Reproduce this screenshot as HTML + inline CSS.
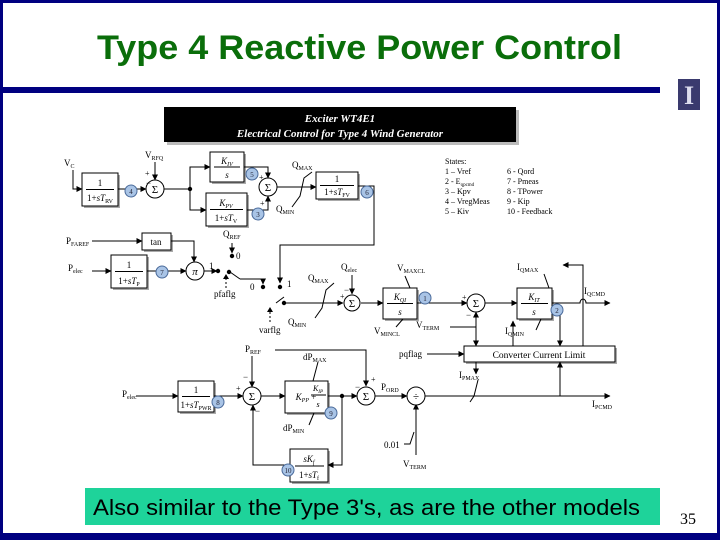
<!DOCTYPE html>
<html><head><meta charset="utf-8"><style>
html,body{margin:0;padding:0;background:#fff}
body{width:720px;height:540px;position:relative;overflow:hidden}
</style></head><body>
<svg width="720" height="540" viewBox="0 0 720 540" xmlns="http://www.w3.org/2000/svg" font-family="Liberation Serif, serif" font-size="9">
<defs>
<marker id="a" markerWidth="6" markerHeight="6" refX="5.5" refY="3" orient="auto" markerUnits="userSpaceOnUse"><path d="M0,0 L6,3 L0,6z" fill="#000"/></marker>
</defs>
<rect x="0" y="0" width="720" height="540" fill="#fff"/>
<rect x="0" y="0" width="720" height="3" fill="#000080"/>
<rect x="0" y="0" width="3" height="540" fill="#000080"/>
<rect x="717" y="0" width="3" height="540" fill="#000080"/>
<rect x="0" y="533" width="720" height="7" fill="#000080"/>
<rect x="3" y="87" width="657" height="6" fill="#000080"/>
<text x="97" y="59" textLength="525" lengthAdjust="spacingAndGlyphs" font-family="Liberation Sans, sans-serif" font-weight="bold" font-size="34" fill="#0a6e0a">Type 4 Reactive Power Control</text>
<rect x="678" y="79" width="22" height="31" fill="#3a3a6e"/>
<text x="689" y="104" text-anchor="middle" font-size="26" font-weight="bold" fill="#dde">I</text>
<rect x="167" y="110" width="352" height="35" fill="#bbb"/>
<rect x="164" y="107" width="352" height="35" fill="#000"/>
<text x="340" y="122" text-anchor="middle" fill="#fff" font-style="italic" font-weight="bold" font-size="11">Exciter WT4E1</text>
<text x="340" y="137" text-anchor="middle" fill="#fff" font-style="italic" font-weight="bold" font-size="11">Electrical Control for Type 4 Wind Generator</text>
<g font-size="8">
<text x="445" y="164">States:</text>
<text x="445" y="174">1 – Vref</text><text x="445" y="184">2 - E<tspan font-size="5" dy="2">qpcmd</tspan></text>
<text x="445" y="194">3 – Kpv</text><text x="445" y="204">4 – VregMeas</text><text x="445" y="214">5 – Kiv</text>
<text x="507" y="174">6 - Qord</text><text x="507" y="184">7 - Pmeas</text><text x="507" y="194">8 - TPower</text><text x="507" y="204">9 - Kip</text><text x="507" y="214">10 - Feedback</text>
</g>
<g stroke="#000" stroke-width="1" fill="none">
<g fill="#aaa" stroke="none">
<rect x="84" y="175" width="36" height="33"/><rect x="212" y="154" width="34" height="30"/><rect x="208" y="195" width="41" height="33"/>
<rect x="318" y="174" width="42" height="27"/><rect x="144" y="235" width="29" height="17"/><rect x="113" y="257" width="36" height="33"/>
<rect x="385" y="290" width="34" height="31"/><rect x="519" y="290" width="35" height="31"/><rect x="466" y="348" width="151" height="16"/>
<rect x="180" y="383" width="36" height="31"/><rect x="287" y="383" width="43" height="32"/><rect x="292" y="451" width="38" height="33"/>
</g>
<g fill="#fff">
<rect x="82" y="173" width="36" height="33"/><rect x="210" y="152" width="34" height="30"/><rect x="206" y="193" width="41" height="33"/>
<rect x="316" y="172" width="42" height="27"/><rect x="142" y="233" width="29" height="17"/><rect x="111" y="255" width="36" height="33"/>
<rect x="383" y="288" width="34" height="31"/><rect x="517" y="288" width="35" height="31"/><rect x="464" y="346" width="151" height="16"/>
<rect x="178" y="381" width="36" height="31"/><rect x="285" y="381" width="43" height="32"/><rect x="290" y="449" width="38" height="33"/>
</g>
<path d="M86,189.5H114M214,167H240M210,209.5H243M320,185.5H354M115,271.5H143M387,303.5H413M521,303.5H548M295,466H324M182,396.5H210"/>
<path d="M73,170V189H82" marker-end="url(#a)"/>
<path d="M118,189H146" marker-end="url(#a)"/>
<path d="M155,162V180" marker-end="url(#a)"/>
<path d="M164,189H189"/>
<path d="M190,189V167H210" marker-end="url(#a)"/>
<path d="M190,189V210H206" marker-end="url(#a)"/>
<path d="M244,167H268V178" marker-end="url(#a)"/>
<path d="M247,210H268V196" marker-end="url(#a)"/>
<path d="M277,187H316" marker-end="url(#a)"/>
<path d="M292,207L300,196L304,178L312,172"/>
<path d="M358,186H374V245H280V283" marker-end="url(#a)"/>
<path d="M92,241H142" marker-end="url(#a)"/>
<path d="M171,241H194V262" marker-end="url(#a)"/>
<path d="M92,271H111" marker-end="url(#a)"/>
<path d="M147,271H186" marker-end="url(#a)"/>
<path d="M204,271H217" marker-end="url(#a)"/>
<path d="M230,272L240,279"/>
<path d="M232,243V253" marker-end="url(#a)"/>
<path d="M240,279H263V284" marker-end="url(#a)"/>
<path d="M276,303L284,297"/>
<path d="M283,303H343" marker-end="url(#a)"/>
<path d="M315,318L322,308L326,290L334,283"/>
<path d="M352,275V294" marker-end="url(#a)"/>
<path d="M361,303H383" marker-end="url(#a)"/>
<path d="M403,319L396,327M405,276L410,288"/>
<path d="M417,303H467" marker-end="url(#a)"/>
<path d="M485,303H517" marker-end="url(#a)"/>
<path d="M450,327H476"/>
<path d="M476,327V312" marker-end="url(#a)"/>
<path d="M476,327V346" marker-end="url(#a)"/>
<path d="M552,303H580A3,4 0 0 1 586,303H610" marker-end="url(#a)"/>
<path d="M583,346V265H563" marker-end="url(#a)"/>
<path d="M544,274L549,288M536,330L541,319"/>
<path d="M560,310V346" marker-end="url(#a)"/>
<path d="M513,346V321" marker-end="url(#a)"/>
<path d="M427,354H464" marker-end="url(#a)"/>
<path d="M476,362V374" marker-end="url(#a)"/>
<path d="M136,396H178" marker-end="url(#a)"/>
<path d="M214,396H243" marker-end="url(#a)"/>
<path d="M252,356V387" marker-end="url(#a)"/>
<path d="M275,350H366V386" marker-end="url(#a)"/>
<path d="M261,396H285" marker-end="url(#a)"/>
<path d="M328,396H357" marker-end="url(#a)"/>
<path d="M342,396V465H328" marker-end="url(#a)"/>
<path d="M290,465H253V405" marker-end="url(#a)"/>
<path d="M375,396H407" marker-end="url(#a)"/>
<path d="M425,396H610" marker-end="url(#a)"/>
<path d="M560,396V362" marker-end="url(#a)"/>
<path d="M470,402L474,396L478,380M318,362L313,381M314,413L309,425"/>
<path d="M416,455V404" marker-end="url(#a)"/>
<path d="M404,444H410L414,432"/>
<g fill="#fff"><circle cx="155" cy="189" r="9"/><circle cx="268" cy="187" r="9"/><circle cx="195" cy="271" r="9"/><circle cx="352" cy="303" r="8"/><circle cx="476" cy="303" r="9"/><circle cx="252" cy="396" r="9"/><circle cx="366" cy="396" r="9"/><circle cx="416" cy="396" r="9"/></g>
</g>
<g fill="#000"><circle cx="218" cy="271" r="2.2"/><circle cx="229" cy="272" r="2.2"/><circle cx="232" cy="256" r="2.2"/><circle cx="263" cy="287" r="2.2"/><circle cx="280" cy="287" r="2.2"/><circle cx="284" cy="303" r="2.2"/><circle cx="190" cy="189" r="2.2"/><circle cx="342" cy="396" r="2.2"/></g>
<g stroke="#000" stroke-dasharray="2,2"><path d="M226,288V278M270,322V311"/></g>
<path d="M223,279L226,274L229,279z M267,312L270,307L273,312z"/>
<g fill="#a9c4e6" stroke="#4a6a9a" stroke-width="1">
<circle cx="131" cy="191" r="6"/><circle cx="252" cy="174" r="6"/><circle cx="258" cy="214" r="6"/><circle cx="367" cy="192" r="6"/>
<circle cx="162" cy="272" r="6"/><circle cx="425" cy="298" r="6"/><circle cx="557" cy="310" r="6"/><circle cx="218" cy="402" r="6"/><circle cx="331" cy="413" r="6"/><circle cx="288" cy="470" r="6"/>
</g>
<g font-size="7" text-anchor="middle" fill="#223">
<text x="131" y="194">4</text><text x="252" y="177">5</text><text x="258" y="217">3</text><text x="367" y="195">6</text><text x="162" y="275">7</text><text x="425" y="301">1</text><text x="557" y="313">2</text><text x="218" y="405">8</text><text x="331" y="416">9</text><text x="288" y="473">10</text>
</g>
<g text-anchor="middle" font-size="11">
<text x="155" y="193">Σ</text><text x="268" y="191">Σ</text><text x="195" y="275" font-style="italic">π</text><text x="352" y="307">Σ</text><text x="476" y="307">Σ</text><text x="252" y="400">Σ</text><text x="366" y="400">Σ</text><text x="416" y="400">÷</text>
</g>
<g text-anchor="middle" font-size="9">
<text x="100" y="186">1</text><text x="100" y="201">1+<tspan font-style="italic">sT</tspan><tspan font-size="6" dy="2">RV</tspan></text>
<text x="227" y="164" font-style="italic">K<tspan font-size="6" dy="2">IV</tspan></text><text x="227" y="178" font-style="italic">s</text>
<text x="226" y="206" font-style="italic">K<tspan font-size="6" dy="2">PV</tspan></text><text x="226" y="221">1+<tspan font-style="italic">sT</tspan><tspan font-size="6" dy="2">V</tspan></text>
<text x="337" y="182">1</text><text x="337" y="195">1+<tspan font-style="italic">sT</tspan><tspan font-size="6" dy="2">FV</tspan></text>
<text x="156" y="245">tan</text>
<text x="129" y="268">1</text><text x="129" y="284">1+<tspan font-style="italic">sT</tspan><tspan font-size="6" dy="2">P</tspan></text>
<text x="400" y="300" font-style="italic">K<tspan font-size="6" dy="2">QI</tspan></text><text x="400" y="315" font-style="italic">s</text>
<text x="534" y="300" font-style="italic">K<tspan font-size="6" dy="2">IT</tspan></text><text x="534" y="315" font-style="italic">s</text>
<text x="539" y="358" font-size="9.5">Converter Current Limit</text>
<text x="196" y="393">1</text><text x="196" y="408">1+<tspan font-style="italic">sT</tspan><tspan font-size="6" dy="2">PWR</tspan></text>
<text x="306" y="400" font-style="italic">K<tspan font-size="6" dy="2">PP</tspan><tspan dy="-2" font-style="normal"> + </tspan></text>
<text x="318" y="391" font-style="italic" font-size="8">K<tspan font-size="5" dy="2">IP</tspan></text><path d="M311,395H326" stroke="#000"/><text x="318" y="407" font-style="italic" font-size="8">s</text>
<text x="309" y="462" font-style="italic">sK<tspan font-size="6" dy="2">f</tspan></text><text x="309" y="478">1+<tspan font-style="italic">sT</tspan><tspan font-size="6" dy="2">f</tspan></text>
</g>
<g font-size="9">
<text x="64" y="166">V<tspan font-size="6" dy="2">C</tspan></text>
<text x="145" y="158">V<tspan font-size="6" dy="2">RFQ</tspan></text>
<text x="145" y="176" font-size="8">+</text><text x="146" y="186" font-size="9">−</text>
<text x="259" y="180" font-size="8">+</text><text x="260" y="206" font-size="8">+</text>
<text x="292" y="168">Q<tspan font-size="6" dy="2">MAX</tspan></text>
<text x="276" y="212">Q<tspan font-size="6" dy="2">MIN</tspan></text>
<text x="66" y="244">P<tspan font-size="6" dy="2">FAREF</tspan></text>
<text x="68" y="271">P<tspan font-size="6" dy="2">elec</tspan></text>
<text x="223" y="237">Q<tspan font-size="6" dy="2">REF</tspan></text>
<text x="236" y="259">0</text><text x="209" y="269">1</text>
<text x="214" y="297">pfaflg</text>
<text x="250" y="290">0</text><text x="287" y="287">1</text>
<text x="259" y="333">varflg</text>
<text x="308" y="281">Q<tspan font-size="6" dy="2">MAX</tspan></text>
<text x="288" y="325">Q<tspan font-size="6" dy="2">MIN</tspan></text>
<text x="341" y="270">Q<tspan font-size="6" dy="2">elec</tspan></text>
<text x="340" y="299" font-size="8">+</text><text x="344" y="293">−</text>
<text x="397" y="271">V<tspan font-size="6" dy="2">MAXCL</tspan></text>
<text x="374" y="334">V<tspan font-size="6" dy="2">MINCL</tspan></text>
<text x="416" y="328">V<tspan font-size="6" dy="2">TERM</tspan></text>
<text x="462" y="300" font-size="8">+</text><text x="466" y="318">−</text>
<text x="517" y="270">I<tspan font-size="6" dy="2">QMAX</tspan></text>
<text x="584" y="294">I<tspan font-size="6" dy="2">QCMD</tspan></text>
<text x="505" y="334">I<tspan font-size="6" dy="2">QMIN</tspan></text>
<text x="399" y="357">pqflag</text>
<text x="459" y="378">I<tspan font-size="6" dy="2">PMAX</tspan></text>
<text x="245" y="352">P<tspan font-size="6" dy="2">REF</tspan></text>
<text x="122" y="397">P<tspan font-size="6" dy="2">elec</tspan></text>
<text x="236" y="391" font-size="8">+</text><text x="243" y="380">−</text><text x="255" y="414">−</text>
<text x="303" y="360">dP<tspan font-size="6" dy="2">MAX</tspan></text>
<text x="283" y="431">dP<tspan font-size="6" dy="2">MIN</tspan></text>
<text x="355" y="390">−</text><text x="371" y="382" font-size="8">+</text>
<text x="381" y="390">P<tspan font-size="6" dy="2">ORD</tspan></text>
<text x="384" y="448">0.01</text>
<text x="403" y="467">V<tspan font-size="6" dy="2">TERM</tspan></text>
<text x="592" y="407">I<tspan font-size="6" dy="2">PCMD</tspan></text>
</g>
<rect x="85" y="488" width="575" height="37" fill="#1ed39a"/>
<text x="93" y="515" textLength="547" lengthAdjust="spacingAndGlyphs" font-family="Liberation Sans, sans-serif" font-size="22" fill="#000">Also similar to the Type 3's, as are the other models</text>
<text x="680" y="524" font-size="16">35</text>
</svg>
</body></html>
